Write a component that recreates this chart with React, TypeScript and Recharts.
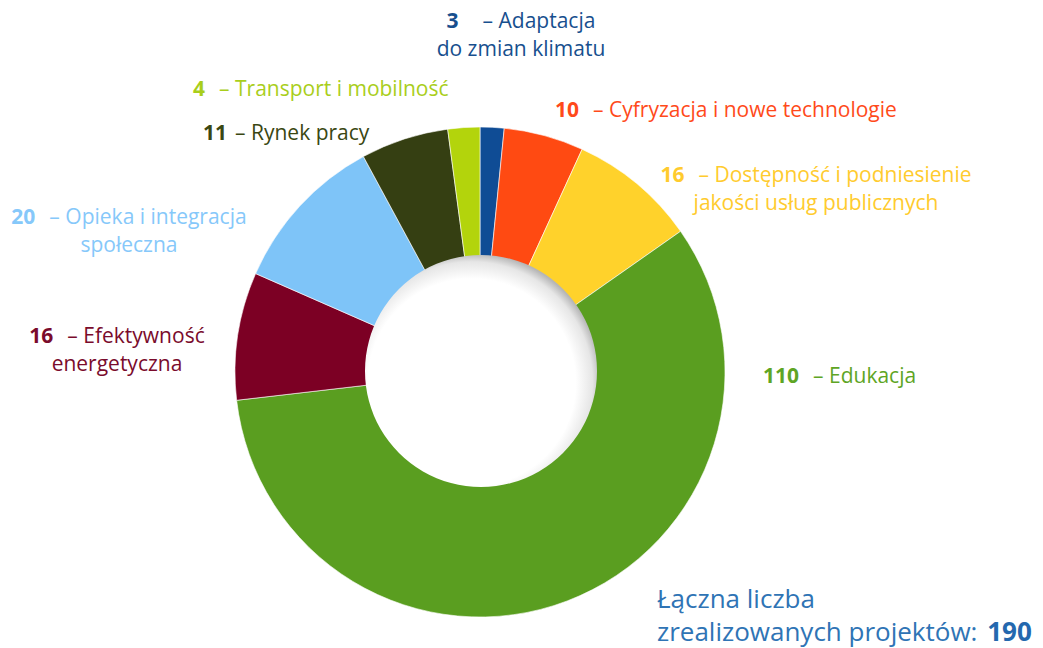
import React from 'react';
import { PieChart, Pie, Cell } from 'recharts';

const categories = [
  'Adaptacja do zmian klimatu',
  'Cyfryzacja i nowe technologie',
  'Dostępność i podniesienie jakości usług publicznych',
  'Edukacja',
  'Efektywność energetyczna',
  'Opieka i integracja społeczna',
  'Rynek pracy',
  'Transport i mobilność',
];
const projectCounts = [3, 10, 16, 110, 16, 20, 11, 4];
const sliceColors = ['#0F4C95', '#FF4A12', '#FFD22B', '#5A9E20', '#7C0024', '#7EC4F8', '#353F12', '#B3D40C'];
const labelColors = ['#174F8E', '#FF4A1A', '#FFCB2E', '#5EA524', '#7A0B2C', '#86C8FA', '#3A4712', '#A9CE1B'];
const TOTAL = 190;

const data = categories.map((name, i) => ({ name, value: projectCounts[i] }));

const FONT = '"Open Sans", "Noto Sans", sans-serif';

type LabelProps = {
  idx: number;
  lines: string[];
  x: number;
  y: number;
  align?: 'center' | 'left';
  gap?: number;
};

const Label: React.FC<LabelProps> = ({ idx, lines, x, y, align = 'center', gap = 14 }) => (
  <div
    style={{
      position: 'absolute',
      left: x,
      top: y,
      transform: align === 'center' ? 'translate(-50%, -50%)' : 'translate(0, -50%)',
      textAlign: align,
      color: labelColors[idx],
      fontFamily: FONT,
      fontSize: 21,
      lineHeight: '28px',
      whiteSpace: 'nowrap',
    }}
  >
    <div>
      <span style={{ fontWeight: 700, marginRight: gap }}>{projectCounts[idx]}</span>– {lines[0]}
    </div>
    {lines[1] && <div>{lines[1]}</div>}
  </div>
);

export default function App() {
  return (
    <div style={{ position: 'fixed', left: 0, top: 0, width: 1043, height: 648, background: '#fff', overflow: 'hidden' }}>
      <PieChart width={1043} height={648}>
        <defs>
          <radialGradient id="holeShade" cx="0.46" cy="0.55" r="0.56">
            <stop offset="0.8" stopColor="#ffffff" />
            <stop offset="0.93" stopColor="#e6e6e6" />
            <stop offset="1" stopColor="#b5b5b5" />
          </radialGradient>
        </defs>
        <Pie
          data={data}
          dataKey="value"
          cx={475}
          cy={367}
          innerRadius={110}
          outerRadius={245}
          startAngle={90}
          endAngle={-270}
          stroke="#ffffff"
          strokeWidth={0.6}
          isAnimationActive={false}
        >
          {data.map((d, i) => (
            <Cell key={d.name} fill={sliceColors[i]} />
          ))}
        </Pie>
        <Pie
          data={[{ name: 'hole', value: 1 }]}
          dataKey="value"
          cx={476}
          cy={366}
          innerRadius={0}
          outerRadius={116}
          stroke="none"
          fill="url(#holeShade)"
          isAnimationActive={false}
        />
      </PieChart>

      <Label idx={0} lines={['Adaptacja', 'do zmian klimatu']} x={521} y={34} gap={24} />
      <Label idx={7} lines={['Transport i mobilność']} x={193} y={88} align="left" />
      <Label idx={6} lines={['Rynek pracy']} x={203} y={132} align="left" gap={8} />
      <Label idx={1} lines={['Cyfryzacja i nowe technologie']} x={555} y={109} align="left" />
      <Label idx={2} lines={['Dostępność i podniesienie', 'jakości usług publicznych']} x={816} y={188} />
      <Label idx={5} lines={['Opieka i integracja', 'społeczna']} x={129} y={230} />
      <Label idx={4} lines={['Efektywność', 'energetyczna']} x={117} y={349} />
      <Label idx={3} lines={['Edukacja']} x={763} y={375} align="left" />

      <div
        style={{
          position: 'absolute',
          left: 657,
          top: 582,
          color: '#2F74B5',
          fontFamily: FONT,
          fontSize: 26,
          lineHeight: '33px',
          whiteSpace: 'nowrap',
        }}
      >
        <div>Łączna liczba</div>
        <div>
          zrealizowanych projektów:{' '}
          <span style={{ fontWeight: 700, color: '#2468AE', marginLeft: 3 }}>{TOTAL}</span>
        </div>
      </div>
    </div>
  );
}
